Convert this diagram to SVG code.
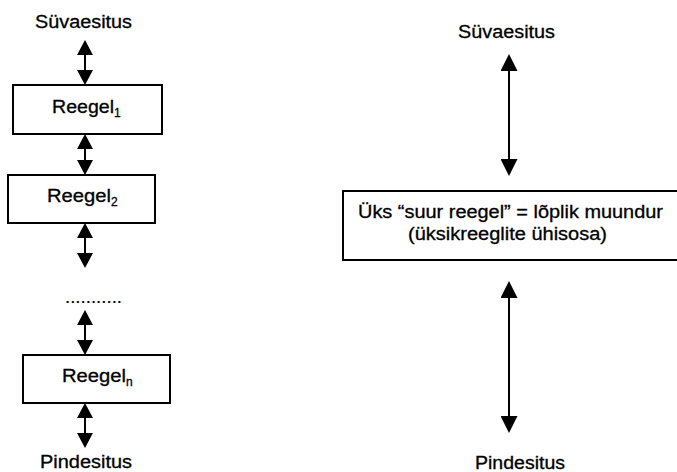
<svg xmlns="http://www.w3.org/2000/svg" width="677" height="472" viewBox="0 0 677 472">
  <defs>
    <style>
      .lbl { font-family: "Liberation Sans", Arial, sans-serif; font-size: 18px; fill: #000; stroke: #000; stroke-width: 0.3; }
      .sub { font-size: 12px; }
      .box { fill: #fff; stroke: #000; stroke-width: 2; }
      .link { stroke: #000; stroke-width: 2; fill: none; marker-start: url(#head-r); marker-end: url(#head-r); }
      .link-l { stroke: #000; stroke-width: 2; fill: none; marker-start: url(#head-c); marker-end: url(#head-c); }
    </style>
    <!-- arrowhead for the rule chain -->
    <marker id="head-c" viewBox="0 0 15 16" refX="1" refY="8" markerWidth="15" markerHeight="16" markerUnits="userSpaceOnUse" orient="auto-start-reverse">
      <path d="M0,0 L15,8 L0,16 Z" fill="#000"/>
    </marker>
    <!-- arrowhead for the single-transducer side -->
    <marker id="head-r" viewBox="0 0 17 17" refX="1" refY="8.5" markerWidth="17" markerHeight="17" markerUnits="userSpaceOnUse" orient="auto-start-reverse">
      <path d="M0,0 L17,8.5 L0,17 Z" fill="#000"/>
    </marker>
  </defs>

  <rect width="677" height="472" fill="#fff"/>

  <!-- connectors -->
  <g id="connectors">
    <line class="link-l" x1="85" y1="54" x2="85" y2="71"/>
    <line class="link-l" x1="85" y1="148" x2="85" y2="161"/>
    <line class="link-l" x1="85" y1="237" x2="85" y2="254"/>
    <line class="link-l" x1="85" y1="324" x2="85" y2="341"/>
    <line class="link-l" x1="85" y1="417" x2="85" y2="434"/>
    <line class="link" x1="509" y1="70" x2="509" y2="160"/>
    <line class="link" x1="509" y1="297" x2="509" y2="417"/>
  </g>

  <!-- left column: chain of ordered rules -->
  <g id="deep-left">
    <text class="lbl" x="35" y="28" textLength="97" lengthAdjust="spacingAndGlyphs">Süvaesitus</text>
  </g>

  <g id="rule-1">
    <rect class="box" x="13" y="85" width="149" height="49"/>
    <text class="lbl" x="52" y="113"><tspan textLength="62" lengthAdjust="spacingAndGlyphs">Reegel</tspan><tspan class="sub" dy="4">1</tspan></text>
  </g>

  <g id="rule-2">
    <rect class="box" x="8" y="175" width="147" height="48"/>
    <text class="lbl" x="47" y="202"><tspan textLength="64" lengthAdjust="spacingAndGlyphs">Reegel</tspan><tspan class="sub" dy="4">2</tspan></text>
  </g>

  <g id="ellipsis">
    <text class="lbl" x="65" y="303" textLength="57" lengthAdjust="spacingAndGlyphs" style="stroke-width:0.2">...........</text>
  </g>

  <g id="rule-n">
    <rect class="box" x="23" y="355" width="147" height="48"/>
    <text class="lbl" x="62" y="382"><tspan textLength="64" lengthAdjust="spacingAndGlyphs">Reegel</tspan><tspan class="sub" dy="4">n</tspan></text>
  </g>

  <g id="surface-left">
    <text class="lbl" x="40" y="468" textLength="92" lengthAdjust="spacingAndGlyphs">Pindesitus</text>
  </g>

  <!-- right column: one combined transducer -->
  <g id="deep-right">
    <text class="lbl" x="458" y="38" textLength="97" lengthAdjust="spacingAndGlyphs">Süvaesitus</text>
  </g>

  <g id="big-rule">
    <rect class="box" x="343" y="191" width="345" height="69"/>
    <text class="lbl" x="358" y="218" textLength="305" lengthAdjust="spacingAndGlyphs">Üks “suur reegel” = lõplik muundur</text>
    <text class="lbl" x="408" y="240" textLength="199" lengthAdjust="spacingAndGlyphs">(üksikreeglite ühisosa)</text>
  </g>

  <g id="surface-right">
    <text class="lbl" x="475" y="469" textLength="90" lengthAdjust="spacingAndGlyphs">Pindesitus</text>
  </g>
</svg>
